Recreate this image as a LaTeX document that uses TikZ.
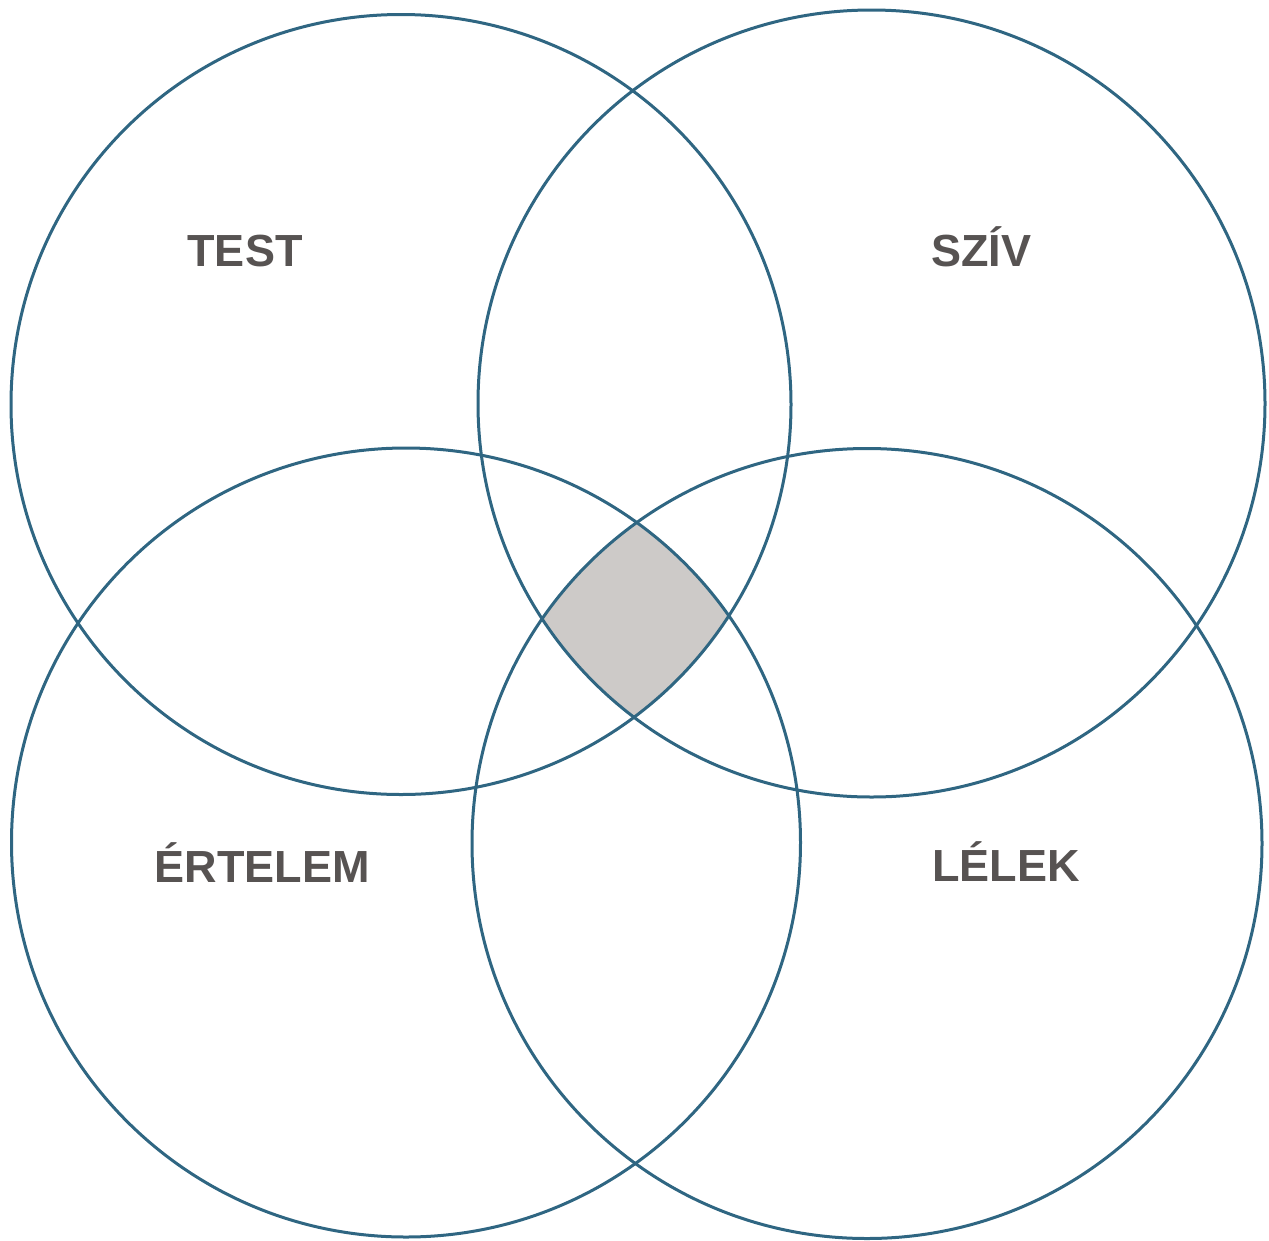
\documentclass[tikz,border=0pt]{standalone}
\usepackage{fontspec}
\setmainfont{Liberation Sans}
\definecolor{ringblue}{HTML}{2F6682}
\definecolor{coreshade}{HTML}{CDCAC8}
\definecolor{labelgray}{HTML}{575352}
\begin{document}
\begin{tikzpicture}[x=1pt,y=-1pt,
  ring/.style={draw=ringblue,line width=3pt},
  lbl/.style={text=labelgray,font=\fontsize{45}{45}\selectfont\bfseries,inner sep=0pt,anchor=base}]
\useasboundingbox (0,0) rectangle (1269,1240);
% centres of the four circles
\coordinate (cTest) at (401,404.5);
\coordinate (cSziv) at (871.5,403.5);
\coordinate (cErt) at (406,842.5);
\coordinate (cLel) at (867,843.5);
% shaded common core of all four circles
\begin{scope}
  \clip (cTest) circle (390);
  \clip (cSziv) circle (393.5);
  \clip (cErt) circle (394.5);
  \fill[coreshade] (cLel) circle (395);
\end{scope}
% the circles
\draw[ring] (cTest) circle (390);
\draw[ring] (cSziv) circle (393.5);
\draw[ring] (cErt) circle (394.5);
\draw[ring] (cLel) circle (395);
% labels
\node[lbl] (test) at (245,266) {TEST};
\node[lbl] (sziv) at (981,266) {SZÍV};
\node[lbl] (ertelem) at (262,882) {ÉRTELEM};
\node[lbl] (lelek) at (1006,881) {LÉLEK};
\end{tikzpicture}
\end{document}
